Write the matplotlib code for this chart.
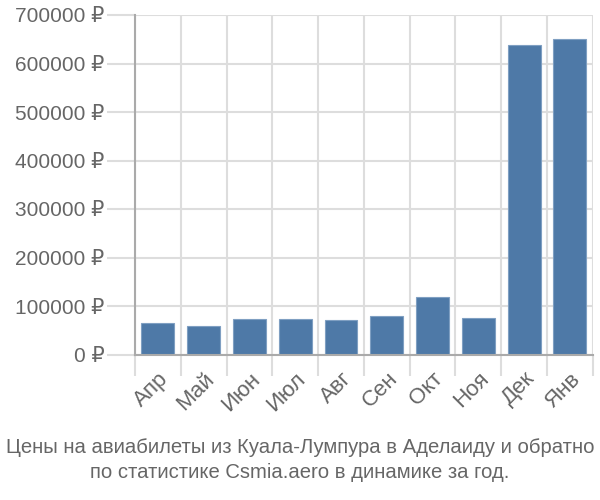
import matplotlib
matplotlib.use("Agg")
import matplotlib.pyplot as plt
from matplotlib.ticker import FuncFormatter, MultipleLocator
import numpy as np

plt.rcParams['font.family'] = ['Liberation Sans', 'DejaVu Sans']

# Data
months = ["Апр", "Май", "Июн", "Июл", "Авг", "Сен", "Окт", "Ноя", "Дек", "Янв"]
prices = [64300, 58800, 72600, 72600, 71100, 80000, 119200, 74600, 638000, 650000]
title_lines = ["Цены на авиабилеты из Куала-Лумпура в Аделаиду и обратно",
               "по статистике Csmia.aero в динамике за год."]

text_color = "#666666"
grid_color = "#dddddd"
axis_color = "#aaaaaa"

fig = plt.figure(figsize=(6, 5), dpi=100)
ax = fig.add_axes([0.225, 0.291, 0.763, 0.679])

x = np.arange(len(months))
ax.bar(x, prices, width=0.72, color="#4e79a7", edgecolor="#7f9fc2",
       linewidth=0.8, zorder=3)

ax.set_xlim(-0.5, len(months) - 0.5)
ax.set_ylim(0, 700000)
ax.yaxis.set_major_locator(MultipleLocator(100000))
ax.yaxis.set_major_formatter(FuncFormatter(lambda v, p: f"{int(v)} ₽"))

# category boundaries: minor ticks for grid, major ticks for labels
ax.set_xticks(x)
ax.set_xticklabels(months, rotation=45, ha="right", rotation_mode="anchor")
ax.set_xticks(np.arange(-0.5, len(months)), minor=True)
ax.tick_params(axis="x", which="major", length=0, pad=10, labelsize=16,
               labelcolor=text_color)
ax.tick_params(axis="x", which="minor", length=15, color=grid_color, width=1.5)
ax.tick_params(axis="y", length=20, color=grid_color, width=1.5, pad=2,
               labelsize=15, labelcolor=text_color)

ax.grid(True, which="minor", axis="x", color=grid_color, linewidth=1.5, zorder=0)
ax.grid(True, which="major", axis="y", color=grid_color, linewidth=1.5, zorder=0)

for side in ["top", "right"]:
    ax.spines[side].set_visible(False)
for side in ["left", "bottom"]:
    ax.spines[side].set_color(axis_color)
    ax.spines[side].set_linewidth(1.5)
    ax.spines[side].set_zorder(4)

fig.text(0.5, 0.105, title_lines[0], ha="center", va="center",
         fontsize=14.6, color=text_color)
fig.text(0.5, 0.055, title_lines[1], ha="center", va="center",
         fontsize=14.6, color=text_color)

fig.savefig("out.png", dpi=100)
